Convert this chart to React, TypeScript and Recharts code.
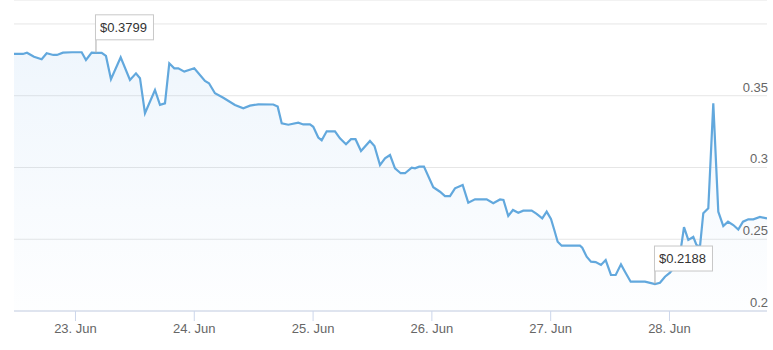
import React from "react";
import { AreaChart, Area, XAxis, YAxis, CartesianGrid, ReferenceDot } from "recharts";

// hours counted from 22 Jun 00:00
const hours = [
  11.58, 13.39, 14.2, 15.62, 17.17, 18.18, 19.52, 20.26, 21.47, 23.29,
  25.25, 26.12, 27.27, 28.14, 29.29, 30.16, 31.17, 33.13, 35.01, 36.22,
  37.03, 38.04, 40.06, 41.07, 42.08, 42.95, 43.96, 44.77, 45.98, 48.0,
  50.16, 50.97, 52.18, 53.86, 56.22, 57.9, 59.25, 60.93, 63.96, 64.85,
  65.66, 66.99, 69.01, 70.02, 71.37, 72.04, 73.05, 73.74, 74.75, 76.42,
  77.43, 78.65, 79.66, 80.57, 81.68, 83.49, 84.4, 85.52, 86.53, 87.54,
  88.55, 89.7, 90.57, 91.92, 92.59, 93.45, 94.4, 96.28, 97.64, 98.65,
  99.66, 100.67, 102.22, 103.35, 104.71, 107.07, 108.4, 109.76, 110.46, 111.43,
  112.38, 113.45, 114.46, 116.16, 117.17, 118.3, 119.19, 120.06, 120.73, 121.41,
  122.22, 125.92, 126.38, 127.27, 128.14, 129.09, 130.16, 131.11, 132.18, 133.13,
  134.2, 135.01, 136.16, 139.05, 141.07, 142.08, 143.09, 144.1, 145.31, 146.32,
  146.93, 147.8, 148.81, 149.45, 150.16, 150.83, 151.84, 152.85, 153.86, 154.87,
  155.82, 156.89, 157.9, 158.85, 159.92, 160.93, 162.28, 163.7,
];

const prices = [
  0.3791, 0.3791, 0.38, 0.3772, 0.3754, 0.3796, 0.3784, 0.3784, 0.38, 0.3803,
  0.3803, 0.3749, 0.38, 0.3799, 0.3798, 0.3777, 0.3615, 0.3768, 0.361, 0.3656,
  0.3622, 0.3378, 0.354, 0.3436, 0.3447, 0.3726, 0.3691, 0.3691, 0.3668, 0.3691,
  0.3603, 0.3587, 0.3517, 0.3486, 0.3436, 0.3413, 0.3431, 0.344, 0.3439, 0.3424,
  0.3308, 0.3298, 0.3312, 0.33, 0.33, 0.3284, 0.3209, 0.319, 0.3252, 0.3252,
  0.3203, 0.3162, 0.3197, 0.3197, 0.3115, 0.3185, 0.315, 0.3017, 0.3064, 0.3087,
  0.2994, 0.296, 0.296, 0.2999, 0.2994, 0.3006, 0.3006, 0.2862, 0.2831, 0.2801,
  0.2801, 0.2855, 0.2878, 0.2755, 0.2778, 0.2778, 0.2751, 0.2777, 0.2774, 0.2662,
  0.2704, 0.2685, 0.2699, 0.2699, 0.2677, 0.2646, 0.2692, 0.2641, 0.2564, 0.2483,
  0.2455, 0.2455, 0.2441, 0.2378, 0.2344, 0.2341, 0.2321, 0.2355, 0.2251, 0.2251,
  0.2325, 0.2274, 0.2204, 0.2204, 0.2188, 0.2197, 0.2239, 0.2267, 0.2321, 0.2439,
  0.2585, 0.2495, 0.2516, 0.246, 0.2449, 0.2681, 0.2716, 0.3447, 0.2692, 0.2592,
  0.2622, 0.2599, 0.2568, 0.2622, 0.2639, 0.2639, 0.2655, 0.2645,
];

const dayTicks = [24, 48, 72, 96, 120, 144];
const dayLabels = ["23. Jun", "24. Jun", "25. Jun", "26. Jun", "27. Jun", "28. Jun"];
const priceTicks = [0.2, 0.25, 0.3, 0.35, 0.4];
const priceLabels = ["0.2", "0.25", "0.3", "0.35", ""];

// highest and lowest price flags
const flagHours = [28.14, 141.07];
const flagPrices = [0.3799, 0.2188];
const flagLabels = ["$0.3799", "$0.2188"];

const data = hours.map((h, i) => ({ h, p: prices[i] }));

const font = "'Liberation Sans', Arial, sans-serif";

function PriceTick(props: any) {
  const { y, payload } = props;
  const idx = priceTicks.findIndex((t) => Math.abs(t - Number(payload.value)) < 1e-6);
  const label = idx >= 0 ? priceLabels[idx] : "";
  if (!label) return <g />;
  return (
    <text x={768} y={y - 4} textAnchor="end" fill="#666" fontSize={13} fontFamily={font}>
      {label}
    </text>
  );
}

function makeFlag(label: string) {
  return (props: any) => {
    const { cx, cy } = props;
    const top = cy - 38;
    return (
      <g>
        <line x1={cx} y1={cy} x2={cx} y2={cy - 13} stroke="#aaa" strokeWidth={1} />
        <rect x={cx - 0.5} y={top} width={58} height={25} fill="#fff" stroke="#c8c8c8" strokeWidth={1} />
        <text x={cx + 4} y={top + 17} fontSize={13} fill="#333" fontFamily={font}>
          {label}
        </text>
      </g>
    );
  };
}

export default function App() {
  return (
    <div style={{ position: "absolute", left: 0, top: 0, background: "#fff" }}>
      <AreaChart
        width={773}
        height={350}
        data={data}
        margin={{ top: 0, right: 5, left: 14, bottom: 9 }}
        style={{ fontFamily: font }}
      >
        <defs>
          <linearGradient id="fillGrad" x1="0" y1="0" x2="0" y2="1">
            <stop offset="0%" stopColor="#7cb5ec" stopOpacity={0.2} />
            <stop offset="100%" stopColor="#7cb5ec" stopOpacity={0.02} />
          </linearGradient>
        </defs>
        <CartesianGrid vertical={false} stroke="#e6e6e6" />
        <XAxis
          type="number"
          dataKey="h"
          domain={[11.58, 163.7]}
          ticks={dayTicks}
          tickFormatter={(v: number) => dayLabels[dayTicks.indexOf(v)]}
          allowDataOverflow
          height={30}
          tickSize={10}
          tickMargin={3}
          axisLine={{ stroke: "#ccd6eb" }}
          tickLine={{ stroke: "#ccd6eb" }}
          tick={{ fill: "#666", fontSize: 13 }}
        />
        <YAxis
          orientation="right"
          width={1}
          domain={[0.2, 0.4167]}
          ticks={priceTicks}
          interval={0}
          allowDataOverflow
          axisLine={false}
          tickLine={false}
          tick={PriceTick}
        />
        <Area
          type="linear"
          dataKey="p"
          stroke="#62a8dd"
          strokeWidth={2.2}
          fill="url(#fillGrad)"
          dot={false}
          activeDot={false}
          isAnimationActive={false}
        />
        {flagHours.map((h, i) => (
          <ReferenceDot
            key={i}
            x={h}
            y={flagPrices[i]}
            r={2}
            shape={makeFlag(flagLabels[i])}
          />
        ))}
      </AreaChart>
    </div>
  );
}
